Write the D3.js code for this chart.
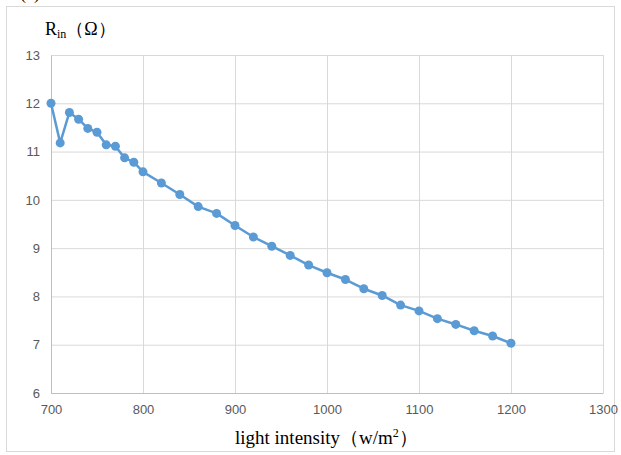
<!DOCTYPE html>
<html>
<head>
<meta charset="utf-8">
<script src="https://cdn.jsdelivr.net/npm/d3@7"></script>
<style>
  body { margin: 0; background: #fff; }
  .tick text { font-family: "Liberation Sans", Arial, sans-serif; font-size: 13px; fill: #595959; }
</style>
</head>
<body>
<svg id="chart" width="621" height="455"></svg>
<script>
// light intensity (w/m2) and input resistance (ohm)
const intensity = [700, 710, 720, 730, 740, 750, 760, 770, 780, 790, 800,
  820, 840, 860, 880, 900, 920, 940, 960, 980, 1000,
  1020, 1040, 1060, 1080, 1100, 1120, 1140, 1160, 1180, 1200];
const resistance = [12.0, 11.18, 11.81, 11.67, 11.48, 11.40, 11.14, 11.11, 10.87, 10.78, 10.58,
  10.35, 10.11, 9.86, 9.72, 9.47, 9.23, 9.04, 8.85, 8.65, 8.49,
  8.35, 8.16, 8.02, 7.82, 7.70, 7.54, 7.42, 7.29, 7.18, 7.03];
const xTicks = [700, 800, 900, 1000, 1100, 1200, 1300];
const yTicks = [6, 7, 8, 9, 10, 11, 12, 13];

const width = 621, height = 455;
const margin = {top: 55, right: 18, bottom: 62, left: 51};
const blue = "#5b9bd5";

const svg = d3.select("#chart");

// outer frame
svg.append("rect")
  .attr("x", 6.5).attr("y", 6.5)
  .attr("width", 608).attr("height", 445)
  .attr("fill", "none").attr("stroke", "#d9d9d9");

// panel label, cut off at the top like in the source figure
svg.append("text")
  .attr("x", 20).attr("y", -1)
  .attr("font-family", "'Liberation Serif', serif")
  .attr("font-size", 18)
  .text("(c)");

const x = d3.scaleLinear().domain([700, 1300]).range([margin.left, width - margin.right]);
const y = d3.scaleLinear().domain([6, 13]).range([height - margin.bottom, margin.top]);

// grid lines
svg.append("g")
  .attr("transform", "translate(0," + y(6) + ")")
  .call(d3.axisBottom(x).tickValues(xTicks).tickSize(-(y(6) - y(13))).tickFormat(""))
  .call(g => g.select(".domain").remove())
  .call(g => g.selectAll("line").attr("stroke", "#d9d9d9"));

svg.append("g")
  .attr("transform", "translate(" + x(700) + ",0)")
  .call(d3.axisLeft(y).tickValues(yTicks).tickSize(-(x(1300) - x(700))).tickFormat(""))
  .call(g => g.select(".domain").remove())
  .call(g => g.selectAll("line").attr("stroke", "#d9d9d9"));

// axes
svg.append("g")
  .attr("transform", "translate(0," + y(6) + ")")
  .call(d3.axisBottom(x).tickValues(xTicks).tickSize(0).tickPadding(12).tickFormat(d3.format("d")))
  .call(g => g.select(".domain").attr("stroke", "#bfbfbf"));

svg.append("g")
  .attr("transform", "translate(" + x(700) + ",0)")
  .call(d3.axisLeft(y).tickValues(yTicks).tickSize(0).tickPadding(11).tickFormat(d3.format("d")))
  .call(g => g.select(".domain").attr("stroke", "#bfbfbf"));

// line and markers
const pts = intensity.map((d, i) => [d, resistance[i]]);
const line = d3.line().x(d => x(d[0])).y(d => y(d[1]));

svg.append("path")
  .datum(pts)
  .attr("fill", "none")
  .attr("stroke", blue)
  .attr("stroke-width", 2.5)
  .attr("stroke-linejoin", "round")
  .attr("d", line);

svg.append("g").selectAll("circle")
  .data(pts)
  .join("circle")
  .attr("cx", d => x(d[0]))
  .attr("cy", d => y(d[1]))
  .attr("r", 4.5)
  .attr("fill", blue);

// axis titles
const yTitle = svg.append("text")
  .attr("x", 45).attr("y", 35)
  .attr("font-family", "'Liberation Serif', serif")
  .attr("font-size", 18)
  .attr("fill", "#000");
yTitle.append("tspan").text("R");
yTitle.append("tspan").attr("font-size", 12).attr("dy", 3).text("in");
yTitle.append("tspan").attr("dy", -3).text("（Ω）");

const xTitle = svg.append("text")
  .attr("x", 235).attr("y", 444)
  .attr("font-family", "'Liberation Serif', serif")
  .attr("font-size", 19)
  .attr("fill", "#000");
xTitle.append("tspan").text("light intensity（w/m");
xTitle.append("tspan").attr("font-size", 12).attr("dy", -7).text("2");
xTitle.append("tspan").attr("dy", 7).text("）");
</script>
</body>
</html>
